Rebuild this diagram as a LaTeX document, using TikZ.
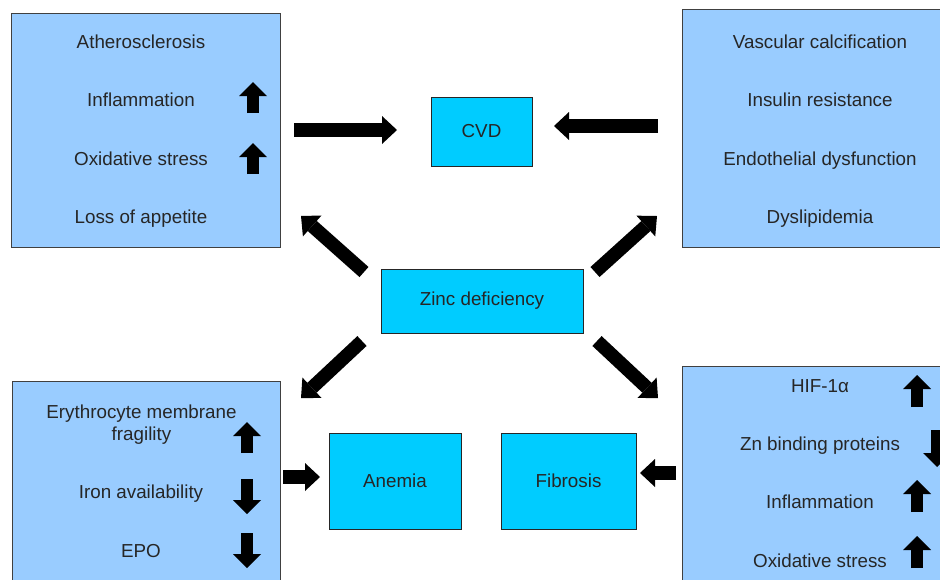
\documentclass[tikz,border=0pt]{standalone}
\usepackage{fontspec}
\setmainfont{Liberation Sans}
\usetikzlibrary{arrows.meta}
\definecolor{boxblue}{HTML}{99CCFF}
\definecolor{corecyan}{HTML}{00CCFF}
\definecolor{txtgray}{HTML}{262626}
\tikzset{
  panel/.style={draw=black!75, line width=0.8pt, fill=boxblue, inner sep=0pt},
  core/.style={draw=black!85, line width=0.9pt, fill=corecyan, inner sep=0pt, text=txtgray, font=\fontsize{18.8}{22}\selectfont},
  item/.style={text=txtgray, inner sep=0pt, align=center, font=\fontsize{18.8}{22}\selectfont, anchor=base},
  fat/.style={line width=13.5pt, -{Triangle[length=15pt,width=28pt,line width=0pt]}},
  updown/.style={line width=12pt, -{Triangle[length=14pt,width=28pt,line width=0pt]}},
}
\begin{document}
\begin{tikzpicture}[x=1pt,y=-1pt]
          \clip (0,0) rectangle (940,579);
          % outer panels
          \node[panel, minimum width=269, minimum height=234] (risk) at (145.5,130) {};
          \node[panel, minimum width=278, minimum height=238] (cvdcause) at (821,128) {};
          \node[panel, minimum width=268, minimum height=219] (anemiacause) at (146,490.5) {};
          \node[panel, minimum width=278, minimum height=234] (fibcause) at (821,483) {};
          % central boxes
          \node[core, minimum width=101, minimum height=69] (cvd) at (481.5,131.5) {CVD};
          \node[core, minimum width=202, minimum height=64] (zinc) at (482,301) {Zinc deficiency};
          \node[core, minimum width=132, minimum height=96] (anemia) at (395,481) {Anemia};
          \node[core, minimum width=135, minimum height=96] (fibrosis) at (568.5,481) {Fibrosis};
          % panel texts
          \node[item] (ath) at (141,48) {Atherosclerosis};
          \node[item] (infl) at (141,106.5) {Inflammation};
          \node[item] (oxi) at (141,165) {Oxidative stress};
          \node[item] (loss) at (141,223.5) {Loss of appetite};
          \node[item] (vasc) at (820,48) {Vascular calcification};
          \node[item] (ins) at (820,106.5) {Insulin resistance};
          \node[item] (endo) at (820,165) {Endothelial dysfunction};
          \node[item] (dysl) at (820,223.5) {Dyslipidemia};
          \node[item] (ery) at (141.5,440) {Erythrocyte membrane\\fragility};
          \node[item] (iron) at (141,498) {Iron availability};
          \node[item] (epo) at (141,557) {EPO};
          \node[item] (hif) at (820,392) {HIF-1α};
          \node[item] (znb) at (820,450) {Zn binding proteins};
          \node[item] (infl2) at (820,508) {Inflammation};
          \node[item] (oxi2) at (820,567) {Oxidative stress};
          % up and down markers
          \foreach \y in {113,174} \draw[updown] (253,\y) -- ++(0,-31);
          \draw[updown] (247,453) -- ++(0,-31);
          \foreach \y in {479,533} \draw[updown] (247,\y) -- ++(0,35);
          \foreach \y in {407,512,568} \draw[updown] (917,\y) -- ++(0,-32);
          \draw[updown] (937,430) -- ++(0,37);
          % free ends of the big arrows
          \coordinate (l1) at (294,130);  \coordinate (l2) at (397,130);
          \coordinate (r1) at (658,126);  \coordinate (r2) at (554,126);
          \coordinate (tl1) at (364,272); \coordinate (tl2) at (301,216);
          \coordinate (tr1) at (595,272); \coordinate (tr2) at (657,216);
          \coordinate (bl1) at (362,341); \coordinate (bl2) at (301,398);
          \coordinate (br1) at (597,341); \coordinate (br2) at (658,398);
          \coordinate (a1) at (283,477);  \coordinate (a2) at (320,477);
          \coordinate (f1) at (676,473);  \coordinate (f2) at (640,473);
          % big arrows
          \draw[fat] (l1) -- (l2);
          \draw[fat] (r1) -- (r2);
          \draw[fat] (tl1) -- (tl2);
          \draw[fat] (tr1) -- (tr2);
          \draw[fat] (bl1) -- (bl2);
          \draw[fat] (br1) -- (br2);
          \draw[fat] (a1) -- (a2);
          \draw[fat] (f1) -- (f2);
        \end{tikzpicture}
\end{document}
